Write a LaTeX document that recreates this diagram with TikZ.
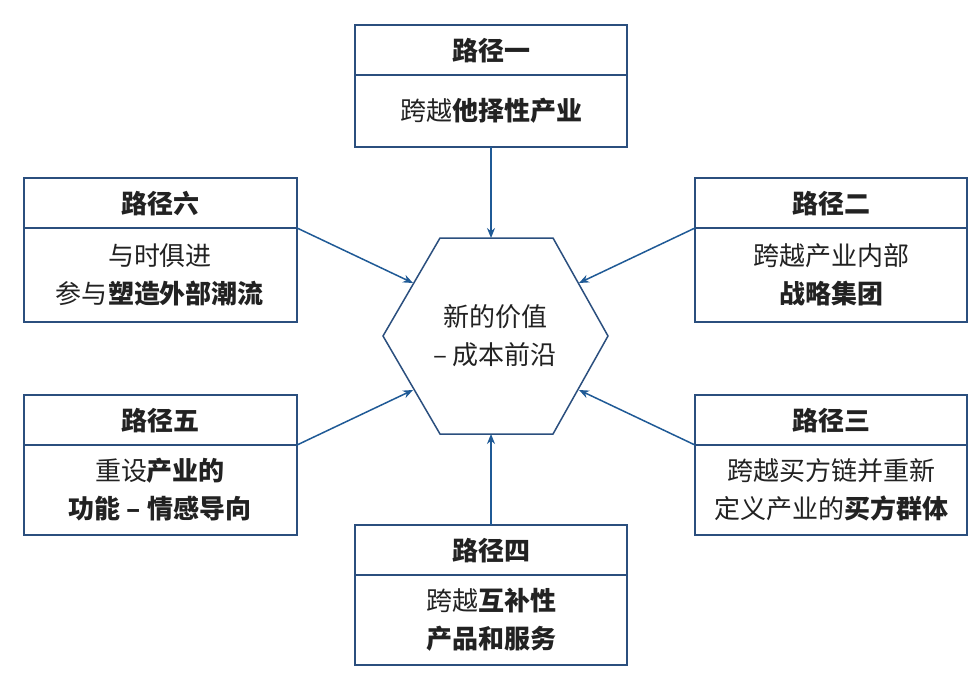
\documentclass[tikz,border=0pt]{standalone}
\usepackage{fontspec}
\setmainfont{Noto Sans CJK SC}
\usetikzlibrary{arrows.meta}
\definecolor{bx}{HTML}{2B4F7E}
\definecolor{ar}{HTML}{1F5A96}
\definecolor{tx}{HTML}{222222}
\tikzset{
  boxline/.style={draw=bx,line width=1.5pt},
  conn/.style={draw=ar,line width=1.5pt,-{Stealth[length=10pt,width=8pt]}},
  txt/.style={text=tx,font=\fontsize{26}{38}\selectfont,align=center},
  hdr/.style={text=tx,font=\fontsize{26}{30}\selectfont\bfseries}
}
\begin{document}
\begin{tikzpicture}[x=1pt,y=-1pt]
\useasboundingbox (0,0) rectangle (978,682);
\fill[white] (0,0) rectangle (978,682);
\foreach \n/\xa/\ya/\xb/\yb/\yd in {b1/355/25/627/147/75, b6/24/178/297/322/228, b2/695/178/967/322/228, b5/24/395/297/535/445, b3/695/395/967/535/445, b4/355/525/627/665/575}{
  \draw[boxline] (\xa,\ya) rectangle (\xb,\yb);
  \draw[boxline] (\xa,\yd) -- (\xb,\yd);
  \coordinate (\n-dl) at (\xa,\yd);
  \coordinate (\n-dr) at (\xb,\yd);
  \coordinate (\n-s) at ({(\xa+\xb)/2},\yb);
  \coordinate (\n-n) at ({(\xa+\xb)/2},\ya);
}
\node[hdr] (h1) at (491,51) {路径一};
\node[txt] (t1) at (491,111) {跨越\textbf{他择性产业}};
\node[hdr] (h6) at (160,204) {路径六};
\node[txt] (t6) at (160,275) {与时俱进\\参与\textbf{塑造外部潮流}};
\node[hdr] (h2) at (831,204) {路径二};
\node[txt] (t2) at (831,275) {跨越产业内部\\\textbf{战略集团}};
\node[hdr] (h5) at (160,421) {路径五};
\node[txt] (t5) at (160,490) {重设\textbf{产业的}\\\textbf{功能 – 情感导向}};
\node[hdr] (h3) at (831,421) {路径三};
\node[txt] (t3) at (831,490) {跨越买方链并重新\\定义产业的\textbf{买方群体}};
\node[hdr] (h4) at (491,551) {路径四};
\node[txt] (t4) at (491,620) {跨越\textbf{互补性}\\\textbf{产品和服务}};
\draw[boxline,fill=white] (440,238) -- (553,238) -- (608,336) -- (553,434) -- (440,434) -- (383,336) -- cycle;
\coordinate (hx-n) at (491,238);
\coordinate (hx-s) at (491,434);
\coordinate (hx-nw) at (413,283);
\coordinate (hx-ne) at (579,283);
\coordinate (hx-sw) at (413,390);
\coordinate (hx-se) at (579,390);
\node[txt] (c) at (495,336) {新的价值\\– 成本前沿};
\draw[conn] (b1-s) -- (hx-n);
\draw[conn] (b4-n) -- (hx-s);
\draw[conn] (b6-dr) -- (hx-nw);
\draw[conn] (b2-dl) -- (hx-ne);
\draw[conn] (b5-dr) -- (hx-sw);
\draw[conn] (b3-dl) -- (hx-se);
\end{tikzpicture}
\end{document}
